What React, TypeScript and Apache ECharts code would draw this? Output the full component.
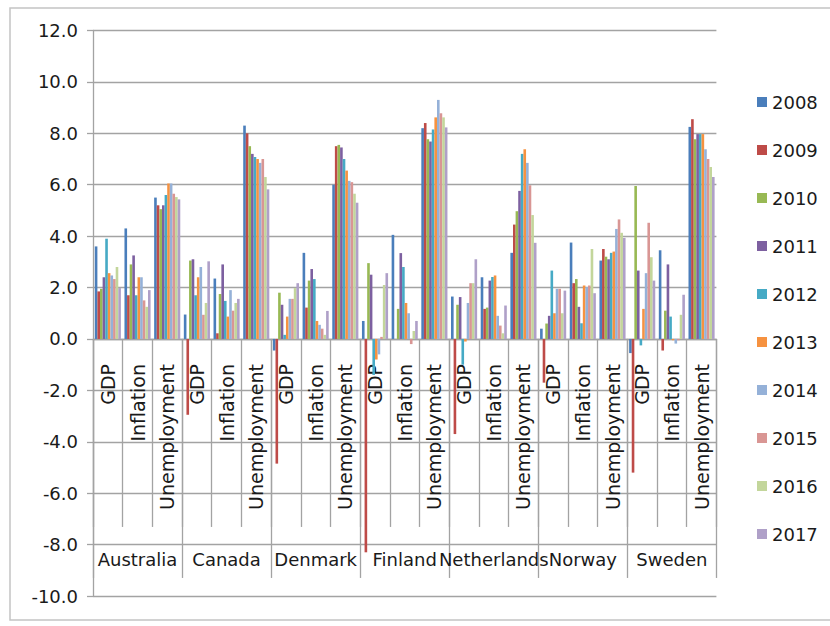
import React, { useEffect, useRef } from "react";
import * as echarts from "echarts";

// Category layout: each country has three indicators
const countries = ["Australia", "Canada", "Denmark", "Finland", "Netherlands", "Norway", "Sweden"];
const indicators = ["GDP", "Inflation", "Unemployment"];
const years = ["2008", "2009", "2010", "2011", "2012", "2013", "2014", "2015", "2016", "2017"];

// Values per year, ordered country by country: GDP, Inflation, Unemployment
const v2008 = [3.6, 4.3, 5.5, 0.95, 2.35, 8.3, -0.45, 3.35, 6.0, 0.7, 4.05, 8.2, 1.65, 2.4, 3.35, 0.4, 3.75, 3.05, -0.55, 3.45, 8.25];
const v2009 = [1.85, 1.7, 5.2, -2.95, 0.22, 8.0, -4.85, 1.22, 7.5, -8.3, 0.0, 8.4, -3.7, 1.17, 4.45, -1.7, 2.17, 3.5, -5.2, -0.45, 8.55];
const v2010 = [1.95, 2.9, 5.05, 3.05, 1.75, 7.5, 1.8, 2.27, 7.55, 2.95, 1.17, 7.77, 1.33, 1.22, 4.97, 0.6, 2.33, 3.2, 5.95, 1.1, 7.77];
const v2011 = [2.4, 3.25, 5.2, 3.1, 2.9, 7.2, 1.33, 2.72, 7.45, 2.5, 3.34, 7.68, 1.63, 2.27, 5.76, 0.9, 1.25, 3.1, 2.66, 2.9, 7.97];
const v2012 = [3.9, 1.7, 5.6, 1.7, 1.48, 7.08, 0.16, 2.33, 7.0, -1.4, 2.8, 8.15, -1.0, 2.41, 7.2, 2.66, 0.61, 3.35, -0.25, 0.87, 7.97];
const v2013 = [2.56, 2.4, 6.05, 2.4, 0.87, 7.0, 0.87, 0.7, 6.55, -0.8, 1.4, 8.62, -0.1, 2.47, 7.38, 1.0, 2.08, 3.4, 1.17, -0.05, 7.97];
const v2014 = [2.47, 2.4, 6.05, 2.8, 1.9, 6.85, 1.56, 0.55, 6.15, -0.6, 1.0, 9.3, 1.4, 0.9, 6.85, 1.95, 2.02, 4.28, 2.56, -0.18, 7.38];
const v2015 = [2.33, 1.5, 5.65, 0.94, 1.1, 7.0, 1.56, 0.4, 6.1, 0.08, -0.2, 8.78, 2.17, 0.52, 5.98, 1.95, 2.08, 4.65, 4.52, -0.05, 7.0];
const v2016 = [2.8, 1.25, 5.52, 1.4, 1.4, 6.3, 1.98, 0.16, 5.65, 2.1, 0.31, 8.62, 2.17, 0.22, 4.82, 1.0, 3.5, 4.13, 3.18, 0.94, 6.69];
const v2017 = [1.98, 1.9, 5.43, 3.02, 1.56, 5.82, 2.17, 1.09, 5.3, 2.56, 0.7, 8.23, 3.1, 1.3, 3.74, 1.88, 1.78, 3.93, 2.27, 1.72, 6.3];

const yearValues = [v2008, v2009, v2010, v2011, v2012, v2013, v2014, v2015, v2016, v2017];
const colors = ["#4A7EBB", "#BE4B48", "#98B954", "#7D60A0", "#46AAC5", "#F69240", "#95B1D8", "#D99694", "#C3D69B", "#AFA0C8"];

const FONT = "DejaVu Sans";
const GRID_COLOR = "#a3a3a3";

// Plot rectangle; the category axes sit on the zero line of the value axis
const GRID_TOP = 30.5;
const GRID_BOTTOM = 30;
const CHART_H = 626;
const Y_MIN = -10;
const Y_MAX = 12;
const plotH = CHART_H - GRID_TOP - GRID_BOTTOM;
const zeroY = GRID_TOP + (Y_MAX / (Y_MAX - Y_MIN)) * plotH;
const axisShift = -(CHART_H - GRID_BOTTOM - zeroY);

export default function App() {
  const ref = useRef<HTMLDivElement>(null);

  useEffect(() => {
    if (!ref.current) return;
    const chart = echarts.init(ref.current, null, { renderer: "svg" });

    const metricLabels: string[] = [];
    countries.forEach(() => indicators.forEach((m) => metricLabels.push(m)));

    const grid = { left: 93, right: 113.6, top: GRID_TOP, bottom: GRID_BOTTOM, outerBoundsMode: "none" };

    chart.setOption({
      animation: false,
      backgroundColor: "#ffffff",
      textStyle: { fontFamily: FONT },
      grid: [grid],
      legend: {
        orient: "vertical",
        left: 752,
        top: 88,
        itemWidth: 10,
        itemHeight: 10,
        itemGap: 30,
        icon: "rect",
        data: years,
        textStyle: { fontFamily: FONT, fontSize: 18, color: "#1a1a1a", lineHeight: 18 },
      },
      xAxis: [
        {
          type: "category",
          gridIndex: 0,
          position: "bottom",
          offset: axisShift,
          data: metricLabels,
          boundaryGap: true,
          axisLine: { show: true, onZero: false, lineStyle: { color: GRID_COLOR, width: 1.3 } },
          axisTick: { show: true, interval: 0, length: 188, lineStyle: { color: GRID_COLOR, width: 1.3 } },
          axisLabel: {
            interval: 0,
            rotate: 90,
            margin: 25,
            fontFamily: FONT,
            fontSize: 19,
            color: "#1a1a1a",
            hideOverlap: false,
          },
          splitLine: { show: false },
        },
        {
          type: "category",
          gridIndex: 0,
          position: "bottom",
          offset: axisShift,
          data: countries,
          boundaryGap: true,
          axisLine: { show: false, onZero: false },
          axisTick: { show: true, interval: 0, length: 239, lineStyle: { color: GRID_COLOR, width: 1.3 } },
          axisLabel: {
            interval: 0,
            margin: 212,
            fontFamily: FONT,
            fontSize: 18,
            color: "#1a1a1a",
            hideOverlap: false,
          },
          splitLine: { show: false },
        },
      ],
      yAxis: [
        {
          type: "value",
          gridIndex: 0,
          min: Y_MIN,
          max: Y_MAX,
          interval: 2,
          axisLine: { show: true, lineStyle: { color: GRID_COLOR, width: 1.3 } },
          axisTick: { show: true, length: 6, lineStyle: { color: GRID_COLOR, width: 1.3 } },
          axisLabel: {
            margin: 15,
            fontFamily: FONT,
            fontSize: 18,
            color: "#1a1a1a",
            formatter: (v: number) => v.toFixed(1),
          },
          splitLine: { show: true, lineStyle: { color: GRID_COLOR, width: 1.3 } },
        },
      ],
      graphic: [
        {
          type: "rect",
          shape: { x: 10, y: 8, width: 830, height: 612 },
          style: { fill: "none", stroke: "#c4c4c4", lineWidth: 1.5 },
          silent: true,
        },
      ],
      series: years.map((y, i) => ({
        type: "bar",
        name: y,
        xAxisIndex: 0,
        yAxisIndex: 0,
        data: yearValues[i],
        barGap: "0%",
        barCategoryGap: "12%",
        itemStyle: { color: colors[i] },
      })),
    });

    return () => chart.dispose();
  }, []);

  return (
    <div
      ref={ref}
      style={{ position: "absolute", left: 0, top: 0, width: 830, height: 626, background: "#fff" }}
    />
  );
}
